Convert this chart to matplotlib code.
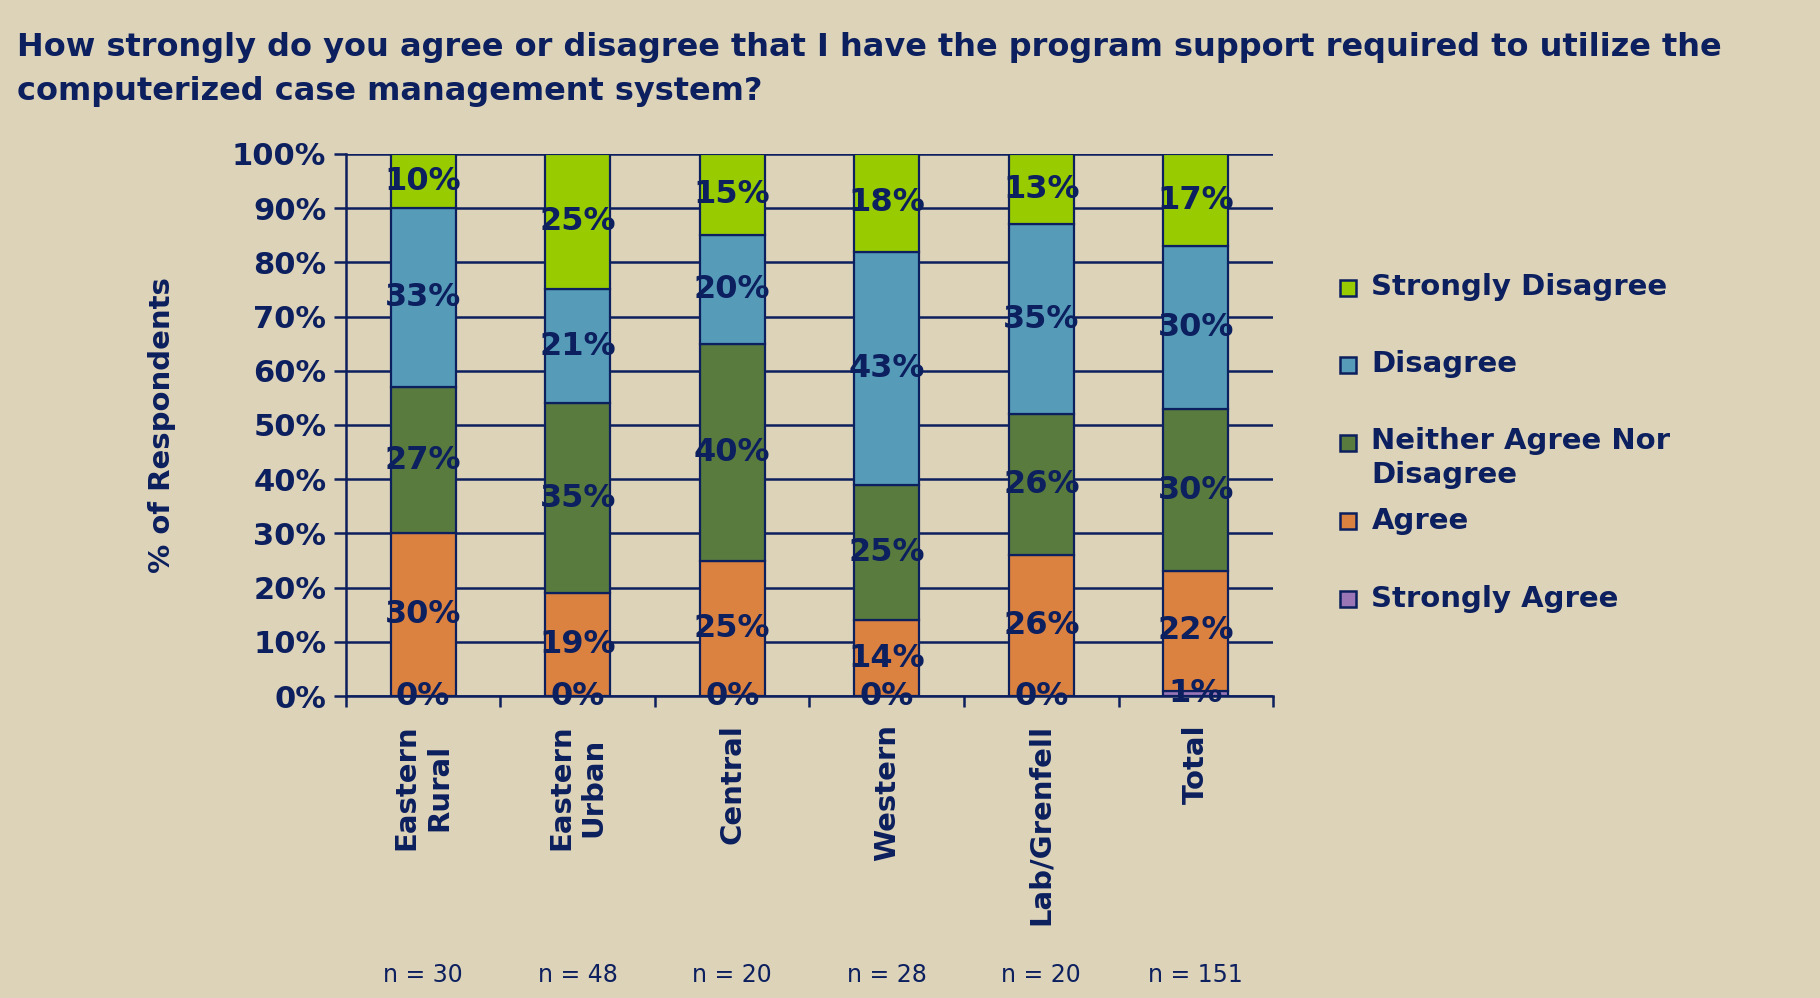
import numpy as np
import matplotlib.pyplot as plt
from matplotlib.patches import Rectangle

# survey results, percent of respondents per region
regions = ["Eastern\nRural", "Eastern\nUrban", "Central", "Western", "Lab/Grenfell", "Total"]
n_counts = [30, 48, 20, 28, 20, 151]

strongly_agree = [0, 0, 0, 0, 0, 1]
agree = [30, 19, 25, 14, 26, 22]
neither = [27, 35, 40, 25, 26, 30]
disagree = [33, 21, 20, 43, 35, 30]
strongly_disagree = [10, 25, 15, 18, 13, 17]

series_names = ["Strongly Agree", "Agree", "Neither Agree Nor\nDisagree",
                "Disagree", "Strongly Disagree"]
series_vals = [strongly_agree, agree, neither, disagree, strongly_disagree]
series_cols = ["#9a76b6", "#dc8240", "#5a7b3e", "#569cb9", "#99cc00"]

navy = "#0c1f5e"
bg = "#ddd3b8"

plt.rcParams["font.family"] = ["DejaVu Sans"]

fig = plt.figure(figsize=(18.2, 9.98), dpi=100, facecolor=bg)
ax = fig.add_axes([0.190, 0.3026, 0.5095, 0.5431], facecolor=bg)

x = np.arange(len(regions))
bottom = np.zeros(len(regions))
for vals, col in zip(series_vals, series_cols):
    vals = np.array(vals, dtype=float)
    ax.bar(x, vals, 0.42, bottom=bottom, color=col, edgecolor=navy,
           linewidth=1.6, zorder=3)
    for xi, b, v in zip(x, bottom, vals):
        ax.text(xi, b + v / 2, f"{int(v)}%", ha="center", va="center",
                fontsize=23, fontweight="bold", color=navy, zorder=5,
                clip_on=False)
    bottom += vals

ax.set_xlim(-0.5, len(regions) - 0.5)
ax.set_ylim(0, 100)
ax.set_yticks(np.arange(0, 101, 10))
ax.set_yticklabels([f"{v}%" for v in range(0, 101, 10)])
ax.yaxis.grid(True, color=navy, linewidth=1.8, zorder=0)
ax.set_axisbelow(True)

for s in ["top", "right"]:
    ax.spines[s].set_visible(False)
for s in ["left", "bottom"]:
    ax.spines[s].set_color(navy)
    ax.spines[s].set_linewidth(1.8)

ax.tick_params(axis="y", colors=navy, length=9, width=1.8, pad=5,
               labelsize=22)
for lbl in ax.get_yticklabels():
    lbl.set_fontweight("bold")

# ticks sit between the categories, labels go underneath as text
ax.set_xticks(np.arange(-0.5, len(regions), 1.0))
ax.set_xticklabels([])
ax.tick_params(axis="x", colors=navy, length=8, width=1.8)

trans = ax.get_xaxis_transform()
for xi, name, n in zip(x, regions, n_counts):
    ax.text(xi, -0.052, name, rotation=90, ha="center", va="top",
            multialignment="center", fontsize=21, fontweight="bold",
            color=navy, transform=trans, linespacing=1.2)
    ax.text(xi, -0.515, f"n = {n}", ha="center", va="center", fontsize=17,
            color=navy, transform=trans)

ax.set_ylabel("% of Respondents", fontsize=21, fontweight="bold",
              color=navy, labelpad=40)

fig.text(0.0095, 0.968, "How strongly do you agree or disagree that I have the program "
         "support required to utilize the\ncomputerized case management system?",
         ha="left", va="top", fontsize=23, fontweight="bold", color=navy,
         linespacing=1.55)

# legend, top entry first
leg_y = [0.712, 0.635, 0.557, 0.478, 0.400]
for yy, name, col in zip(leg_y, series_names[::-1], series_cols[::-1]):
    fig.patches.append(Rectangle((0.7365, yy - 0.0085), 0.0088, 0.016,
                                 transform=fig.transFigure, facecolor=col,
                                 edgecolor=navy, linewidth=1.8))
    if "\n" in name:
        fig.text(0.7535, yy + 0.0155, name, ha="left", va="top",
                 fontsize=21, fontweight="bold", color=navy, linespacing=1.3)
    else:
        fig.text(0.7535, yy, name, ha="left", va="center",
                 fontsize=21, fontweight="bold", color=navy)

fig.savefig("out.png", dpi=100, facecolor=bg)
